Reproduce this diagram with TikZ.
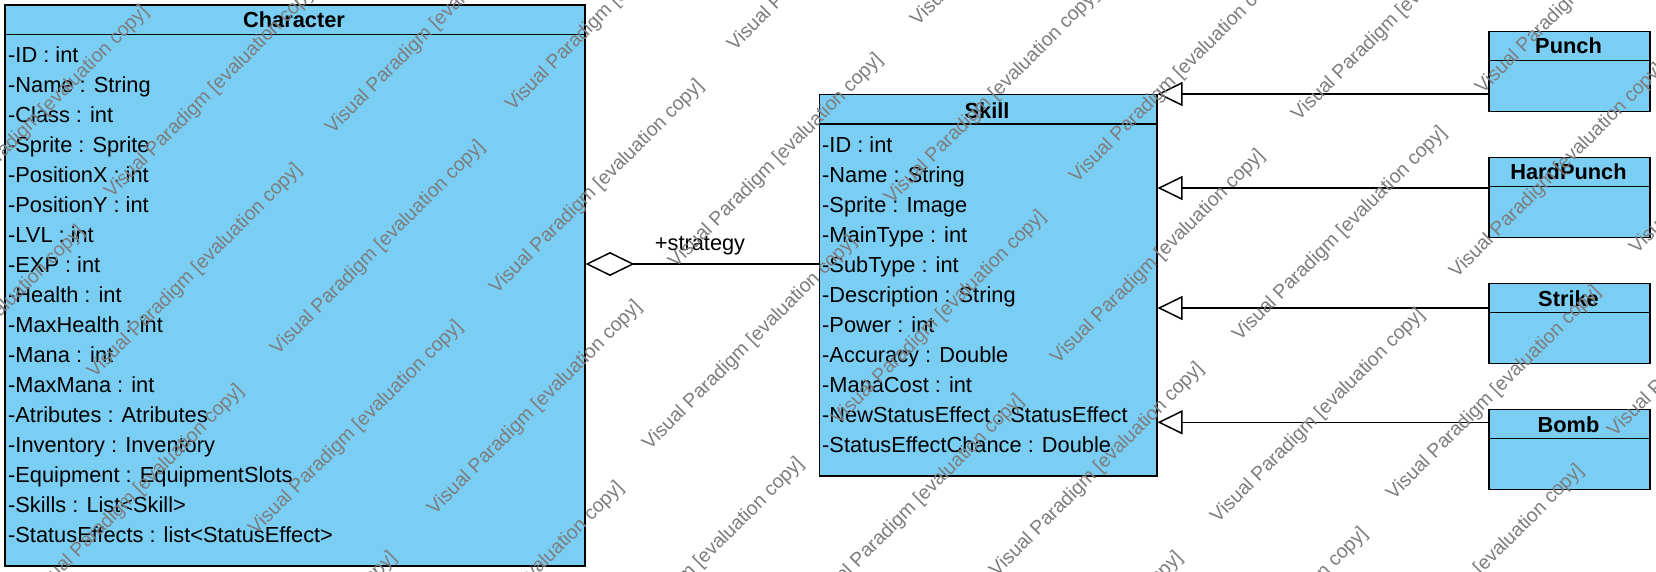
\documentclass[tikz,border=0pt]{standalone}
\usepackage{fontspec}
\setmainfont{Liberation Sans}
\usetikzlibrary{arrows.meta}
\definecolor{clsfill}{HTML}{7ACEF4}
\definecolor{wm}{RGB}{125,125,125}
\begin{document}
\begin{tikzpicture}[x=1pt,y=-1pt,
  cls/.style={draw=black, line width=1.5pt, fill=clsfill, inner sep=0pt, anchor=north west},
  sepline/.style={draw=black, line width=1.5pt},
  attr/.style={font=\fontsize{21.8}{24}\selectfont, anchor=base west, inner sep=0pt},
  ctitle/.style={font=\fontsize{21.8}{24}\selectfont\bfseries, anchor=base, inner sep=0pt},
  lbl/.style={font=\fontsize{21.8}{24}\selectfont, anchor=base, inner sep=0pt},
  wmark/.style={font=\fontsize{19.5}{22}\selectfont, text=wm, rotate=45, inner sep=0pt},
  gen/.style={line width=1.5pt, -{Triangle[open, length=25pt, width=24pt, line width=1.5pt]}},
  agg/.style={line width=1.5pt, {Diamond[fill=white, length=49pt, width=24pt, line width=1.5pt]}-}
]
\useasboundingbox (0,0) rectangle (1656,572);
\fill[white] (0,0) rectangle (1656,572);

% Character
\node[cls, minimum width=579.7pt, minimum height=561pt] (character) at (4.3,4.3) {};
\draw[sepline] ([yshift=-30pt]character.north west) -- ([yshift=-30pt]character.north east);
\node[ctitle] (chartitle) at (294,28) {Character};
\foreach \t [count=\i] in {-ID : int, -Name : String, -Class : int, -Sprite : Sprite,
  -PositionX : int, -PositionY : int, -LVL : int, -EXP : int, -Health : int,
  -MaxHealth : int, -Mana : int, -MaxMana : int, -Atributes : Atributes,
  -Inventory : Inventory, -Equipment : EquipmentSlots, -Skills : List<Skill>,
  -StatusEffects : list<StatusEffect>}
  \node[attr] (ca\i) at (8,{62.8+30*(\i-1)}) {\t};

% Skill
\node[cls, minimum width=337.4pt, minimum height=381pt] (skill) at (818.6,94) {};
\draw[sepline] ([yshift=-30pt]skill.north west) -- ([yshift=-30pt]skill.north east);
\node[ctitle] (skilltitle) at (987,118.3) {Skill};
\foreach \t [count=\i] in {-ID : int, -Name : String, -Sprite : Image, -MainType : int,
  -SubType : int, -Description : String, -Power : int, -Accuracy : Double,
  -ManaCost : int, -NewStatusEffect : StatusEffect, -StatusEffectChance : Double}
  \node[attr] (sa\i) at (822,{152.8+30*(\i-1)}) {\t};

% Subclasses
\foreach \n/\t/\k in {punch/Punch/0, hardpunch/HardPunch/1, strike/Strike/2, bomb/Bomb/3} {
  \node[cls, minimum width=161pt, minimum height=80pt] (\n) at (1488,{30.7+126*\k}) {};
  \draw[sepline] ([yshift=-30pt]\n.north west) -- ([yshift=-30pt]\n.north east);
  \node[ctitle] (\n title) at (1568.5,{54+126*\k}) {\t};
}

% Generalizations
\coordinate (g1) at (1300,94);
\coordinate (g2) at (1300,188);
\coordinate (g3) at (1300,308);
\coordinate (g4) at (1300,422.3);
\draw[gen] (punch.west |- g1) -- (skill.east |- g1);
\draw[gen] (hardpunch.west |- g2) -- (skill.east |- g2);
\draw[gen] (strike.west |- g3) -- (skill.east |- g3);
\draw[gen] (bomb.west |- g4) -- (skill.east |- g4);

% Aggregation
\coordinate (a1) at (700,264);
\draw[agg] (character.east |- a1) -- (skill.west |- a1);
\node[lbl] (strat) at (700,250.5) {+strategy};

% Watermarks
\foreach \x/\y [count=\i] in {42/113, 212/91, 433/27, 613/4, 835/-56, 1018/-81, 992/97,
  1177/76, 1399/14, 1583/-13, 195/271, 378/248, 597/187, 776/161, -22/333, 1158/257,
  1340/234, 1557/171, 1737/147, 939/318, 137/492, 356/428, 535/408, 750/343, 917/502,
  1097/470, 1318/416, 1494/393, 1715/330, 517/589, 697/565, 290/659, 1477/572,
  1261/635, 1076/659}
  \node[wmark] (wm\i) at (\x,\y) {Visual Paradigm [evaluation copy]};
\end{tikzpicture}
\end{document}
